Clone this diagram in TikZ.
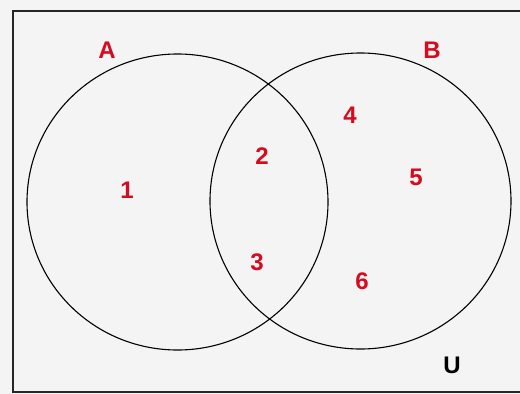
\documentclass[tikz,border=0pt]{standalone}
\usepackage{fontspec}
\setmainfont{Liberation Sans}
\definecolor{bgc}{RGB}{244,244,244}
\definecolor{lab}{RGB}{215,10,30}
\begin{document}
\begin{tikzpicture}[x=1pt,y=-1pt,
  setc/.style={draw=black,line width=1.1pt},
  lbl/.style={text=lab,font=\fontsize{24}{24}\selectfont\bfseries,inner sep=0pt},
  ulbl/.style={text=black,font=\fontsize{24}{24}\selectfont\bfseries,inner sep=0pt}]
\useasboundingbox (0,0) rectangle (520,394);
\fill[bgc] (0,0) rectangle (520,394);
\draw[line width=1.6pt,draw=black!85] (13,11) rectangle (530,392);
\draw[setc] (177.5,202) ellipse [x radius=150.5, y radius=148];
\draw[setc] (360.5,201) ellipse [x radius=150.5, y radius=148];
\node[lbl] (A) at (107,50) {A};
\node[lbl] (B) at (432,50) {B};
\node[lbl] (n1) at (127,190) {1};
\node[lbl] (n2) at (262,156) {2};
\node[lbl] (n3) at (257,262) {3};
\node[lbl] (n4) at (350,115) {4};
\node[lbl] (n5) at (416,177) {5};
\node[lbl] (n6) at (362,281) {6};
\node[ulbl] (U) at (452,365) {U};
\end{tikzpicture}
\end{document}
